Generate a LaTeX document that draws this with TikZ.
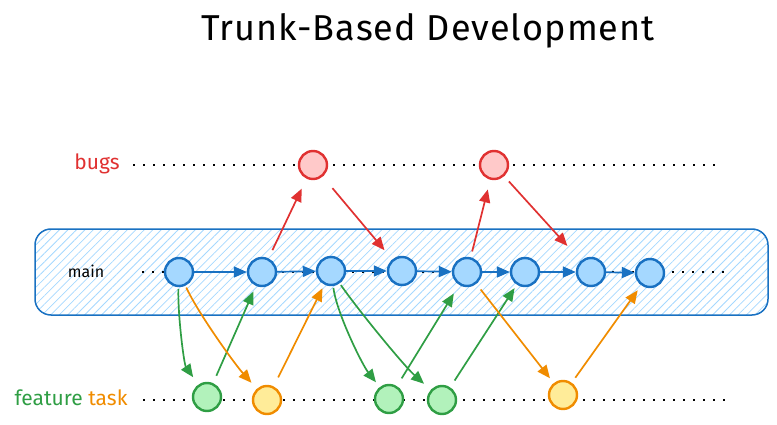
\documentclass[tikz,border=0pt]{standalone}
\usepackage{fontspec}
\setmainfont{Fira Sans}
\usetikzlibrary{arrows.meta,patterns.meta}
\definecolor{bstroke}{HTML}{1971C2}
\definecolor{bfill}{HTML}{A5D8FF}
\definecolor{rstroke}{HTML}{E03131}
\definecolor{rfill}{HTML}{FFC9C9}
\definecolor{gstroke}{HTML}{2F9E44}
\definecolor{gfill}{HTML}{B2F2BB}
\definecolor{ostroke}{HTML}{F08C00}
\definecolor{ofill}{HTML}{FFEC99}
\begin{document}
\begin{tikzpicture}[x=1pt,y=-1pt,
  commit/.style={circle, minimum size=28pt, inner sep=0pt, line width=2.4pt},
  mainc/.style={commit, draw=bstroke, fill=bfill},
  bugc/.style={commit, draw=rstroke, fill=rfill},
  featc/.style={commit, draw=gstroke, fill=gfill},
  taskc/.style={commit, draw=ostroke, fill=ofill},
  track/.style={line width=2pt, dash pattern=on 2pt off 8pt, black},
  arr/.style={line width=1.7pt, -{Triangle[length=13pt,width=11pt]}},
  curvy/.style={looseness=0.65},
  lbl/.style={font=\fontsize{21}{25}\selectfont, inner sep=0pt}
]
\useasboundingbox (0,0) rectangle (777,425);

% title
\node[font=\fontsize{36}{43}\selectfont\addfontfeatures{LetterSpace=3}, inner sep=0pt] (title) at (428,31) {Trunk-Based Development};

% trunk box
\node[draw=bstroke, line width=1.5pt, rounded corners=16pt,
      pattern={Lines[angle=45,distance=6pt,line width=0.8pt]}, pattern color=bfill,
      minimum width=733pt, minimum height=86pt, inner sep=0pt] (trunk) at (401.5,272) {};

% tracks
\coordinate (bL) at (133,165); \coordinate (bR) at (715,165);
\coordinate (mL) at (142,272); \coordinate (mR) at (725,272);
\coordinate (fL) at (143,400); \coordinate (fR) at (727,400);
\draw[track] (bL) -- (bR);
\draw[track] (mL) -- (mR);
\draw[track] (fL) -- (fR);

% labels
\node[lbl, text=rstroke] (bugslbl) at (97,164) {bugs};
\node[lbl, font=\fontsize{16}{20}\selectfont] (mainlbl) at (86,271) {main};
\node[lbl] (featlbl) at (71,398) {\textcolor{gstroke}{feature} \textcolor{ostroke}{task}};

% commits
\node[mainc] (m1) at (179,272) {};
\node[mainc] (m2) at (262,272) {};
\node[mainc] (m3) at (331,271) {};
\node[mainc] (m4) at (402,271) {};
\node[mainc] (m5) at (467,272) {};
\node[mainc] (m6) at (525,272) {};
\node[mainc] (m7) at (591,272) {};
\node[mainc] (m8) at (650,273) {};
\node[bugc] (b1) at (313,165) {};
\node[bugc] (b2) at (494,165) {};
\node[featc] (f1) at (207,397) {};
\node[taskc] (t1) at (267,400) {};
\node[featc] (f2) at (389,399) {};
\node[featc] (f3) at (442,400) {};
\node[taskc] (t2) at (563,395) {};

% main line arrows
\foreach \a/\b in {m1/m2,m2/m3,m3/m4,m4/m5,m5/m6,m6/m7,m7/m8}
  \draw[arr, bstroke] (\a) -- (\b);

% bug arrows
\draw[arr, rstroke, shorten <=9pt, shorten >=11pt] (m2) -- (b1);
\draw[arr, rstroke, shorten <=15pt, shorten >=12pt] (b1) -- (m4);
\draw[arr, rstroke, shorten <=6pt, shorten >=10pt] (m5) -- (b2);
\draw[arr, rstroke, shorten <=7pt, shorten >=20pt] (b2) -- (m7);

% feature arrows
\draw[arr, gstroke, curvy, shorten <=2pt, shorten >=9pt] (m1) to[out=-92,in=-235] (f1);
\draw[arr, gstroke, shorten <=8pt, shorten >=6pt] (f1) -- (m2);
\draw[arr, gstroke, curvy, shorten <=2pt, shorten >=6pt] (m3) to[out=-82,in=-232] (f2);
\draw[arr, gstroke, curvy, shorten <=2pt, shorten >=9pt] (m3) to[out=-55,in=-222] (f3);
\draw[arr, gstroke, shorten <=9pt, shorten >=10pt] (f2) -- (m5);
\draw[arr, gstroke, shorten <=8pt, shorten >=4pt] (f3) -- (m6);

% task arrows
\draw[arr, ostroke, curvy, shorten <=2pt, shorten >=8pt] (m1) to[out=-65,in=-228] (t1);
\draw[arr, ostroke, shorten <=10pt, shorten >=4pt] (t1) -- (m3);
\draw[arr, ostroke, shorten <=7pt, shorten >=6pt] (m5) -- (t2);
\draw[arr, ostroke, shorten <=6pt, shorten >=6pt] (t2) -- (m8);
\end{tikzpicture}
\end{document}
